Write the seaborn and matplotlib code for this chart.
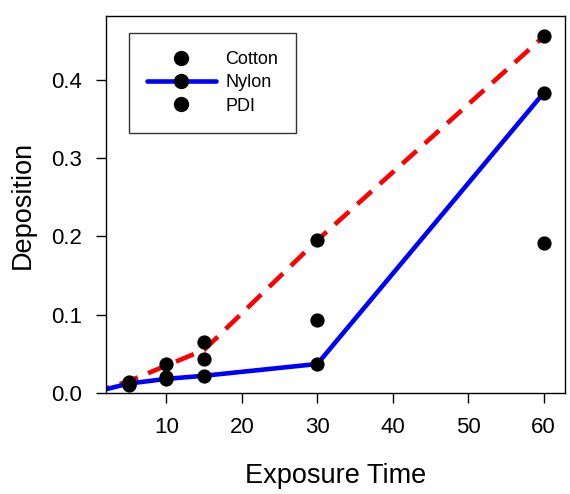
import matplotlib
matplotlib.use("Agg")
import matplotlib.pyplot as plt
from matplotlib.lines import Line2D
import seaborn as sns
import pandas as pd

times = [5, 10, 15, 30, 60]
cotton = [0.014, 0.037, 0.065, 0.195, 0.455]
nylon = [0.012, 0.018, 0.022, 0.037, 0.383]
pdi = [0.010, 0.021, 0.043, 0.093, 0.191]

# curves drawn through the points (start at the origin)
line_times = [0, 5, 10, 15, 30, 60]
nylon_line = [0.0, 0.012, 0.018, 0.022, 0.037, 0.383]
red_line = [0.0, 0.015, 0.035, 0.055, 0.195, 0.455]

df = pd.DataFrame({
    "time": times * 3,
    "dep": cotton + nylon + pdi,
    "fabric": ["Cotton"] * 5 + ["Nylon"] * 5 + ["PDI"] * 5,
})
lines = pd.DataFrame({"time": line_times, "nylon": nylon_line, "red": red_line})

sns.set_style("white")
plt.rcParams["font.family"] = ["Liberation Sans", "DejaVu Sans"]
plt.rcParams["text.color"] = "black"
plt.rcParams["axes.labelcolor"] = "black"

fig = plt.figure(figsize=(5.7, 4.94), dpi=100)
ax = fig.add_axes([0.186, 0.2045, 0.805, 0.763])

sns.lineplot(data=lines, x="time", y="red", ax=ax, color="red", lw=3.3,
             linestyle=(0, (4.2, 2.4)), zorder=2)
sns.lineplot(data=lines, x="time", y="nylon", ax=ax, color="blue", lw=3.3, zorder=2)
sns.scatterplot(data=df, x="time", y="dep", ax=ax, color="black", s=105,
                edgecolor="black", linewidth=0, legend=False, zorder=3)

ax.set_xlim(2, 62.8)
ax.set_ylim(0, 0.481)
ax.set_xticks([10, 20, 30, 40, 50, 60])
ax.set_yticks([0.0, 0.1, 0.2, 0.3, 0.4])
ax.set_yticklabels(["0.0", "0.1", "0.2", "0.3", "0.4"])
ax.tick_params(axis="both", direction="out", length=7, width=1, labelsize=16,
               colors="black", pad=10, left=True, bottom=True)
for s in ax.spines.values():
    s.set_color("black")
    s.set_linewidth(1)

ax.set_xlabel("Exposure Time", fontsize=19.5, labelpad=18)
ax.set_ylabel("Deposition", fontsize=19.5, labelpad=11)

handles = [
    Line2D([], [], color="black", marker="o", ls="none", markersize=10),
    Line2D([], [], color="blue", lw=3.3, marker="o", markersize=10,
           markerfacecolor="black", markeredgecolor="black"),
    Line2D([], [], color="black", marker="o", ls="none", markersize=10),
]
leg = ax.legend(handles, ["Cotton", "Nylon", "PDI"], loc="upper left",
                bbox_to_anchor=(0.05, 0.955), fontsize=13, frameon=True,
                fancybox=False, handlelength=3.8, handletextpad=0.55,
                borderpad=1.0, labelspacing=0.35, borderaxespad=0)
leg.get_frame().set_edgecolor("black")
leg.get_frame().set_linewidth(1)

fig.savefig("out.png", dpi=100)
